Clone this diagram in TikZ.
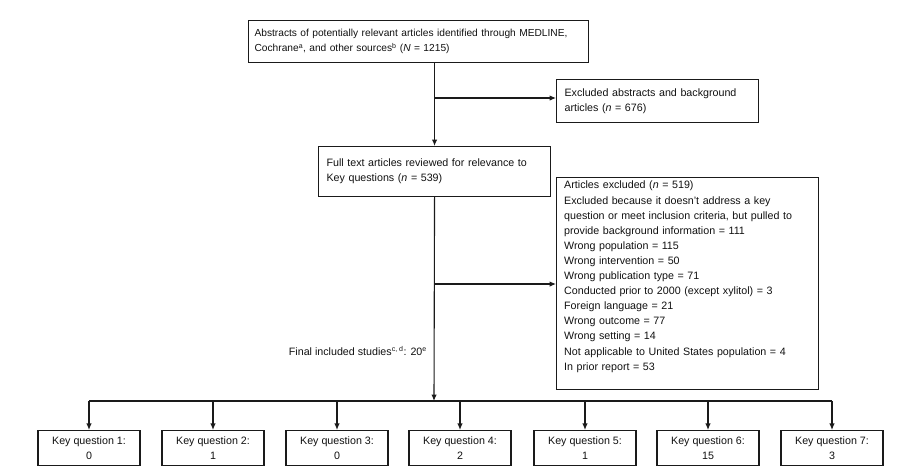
\documentclass[tikz,border=0pt]{standalone}
\usepackage{fontspec}
\setmainfont{Liberation Sans}
\usetikzlibrary{arrows.meta,calc}
\definecolor{ln}{HTML}{1A1A1A}
\definecolor{tx}{HTML}{111111}
\tikzset{
  boxl/.style={draw=ln, line width=1.1pt, rectangle, anchor=north west, inner xsep=8pt, inner ysep=0pt, align=left, text=tx, font=\fontsize{10.7}{15}\selectfont},
  rectonly/.style={draw=ln, line width=1.1pt, rectangle, anchor=north west, inner sep=0pt},
  kq/.style={draw=ln, line width=1.1pt, rectangle, minimum width=102pt, minimum height=35pt, inner sep=0pt, align=center, text=tx, font=\fontsize{10.7}{15}\selectfont},
  conn/.style={draw=ln, line width=1.1pt},
  arr/.style={conn, -{Latex[length=6.5pt,width=5.5pt]}}
}
\begin{document}
\begin{tikzpicture}[x=1pt,y=-1pt]
\useasboundingbox (0,0) rectangle (900,472);
% top box
\node[boxl, inner xsep=6pt, text width=328pt, minimum width=340pt, minimum height=42pt, font=\fontsize{10.2}{15}\selectfont] (b1) at (248,20)
  {Abstracts of potentially relevant articles identified through MEDLINE,\\Cochrane\textsuperscript{\scriptsize a}, and other sources\textsuperscript{\scriptsize b} (\textit{N} = 1215)};
% excluded abstracts
\node[boxl, text width=186pt, minimum width=202pt, minimum height=43pt] (ex1) at (556,79)
  {Excluded abstracts and background\\articles (\textit{n} = 676)};
% full text
\node[boxl, text width=216pt, minimum width=232pt, minimum height=50pt] (ft) at (318,146)
  {Full text articles reviewed for relevance to\\Key questions (\textit{n} = 539)};
% excluded articles
\node[rectonly, minimum width=262pt, minimum height=212pt] (ex2) at (556,177) {};
\node[anchor=north west, inner sep=0pt, text width=254pt, align=left, text=tx, font=\fontsize{10.7}{15.1}\selectfont] (ex2t) at ($(ex2.north west)+(8,4)$)
  {Articles excluded (\textit{n} = 519)\\
   Excluded because it doesn’t address a key\\
   question or meet inclusion criteria, but pulled to\\
   provide background information = 111\\
   Wrong population = 115\\
   Wrong intervention = 50\\
   Wrong publication type = 71\\
   Conducted prior to 2000 (except xylitol) = 3\\
   Foreign language = 21\\
   Wrong outcome = 77\\
   Wrong setting = 14\\
   Not applicable to United States population = 4\\
   In prior report = 53};
% final included
\node[anchor=east, inner sep=0pt, text=tx, font=\fontsize{10.7}{12}\selectfont] (fin) at (427,351)
  {Final included studies\textsuperscript{\upshape\scriptsize c, d}: 20\textsuperscript{\upshape\scriptsize e}};
% key question boxes
\node[kq] (kq1) at (89,448) {Key question 1:\\0};
\node[kq] (kq2) at (213,448) {Key question 2:\\1};
\node[kq] (kq3) at (337,448) {Key question 3:\\0};
\node[kq] (kq4) at (460,448) {Key question 4:\\2};
\node[kq] (kq5) at (585,448) {Key question 5:\\1};
\node[kq] (kq6) at (708,448) {Key question 6:\\15};
\node[kq] (kq7) at (832,448) {Key question 7:\\3};
% connectors
\coordinate (j1) at (434,98);
\coordinate (j2) at (434,284);
\coordinate (bar) at (434,401);
\draw[arr] (b1.south -| ft.north) -- (ft.north);
\draw[arr] (j1) -- (j1 -| ex1.west);
\draw[arr] (ft.south) -- (bar);
\draw[arr] (j2) -- (j2 -| ex2.west);
\draw[conn] (kq1.north |- bar) -- (kq7.north |- bar);
\foreach \k in {1,...,7}{
  \draw[arr] (kq\k.north |- bar) -- (kq\k.north);
}
\end{tikzpicture}
\end{document}
